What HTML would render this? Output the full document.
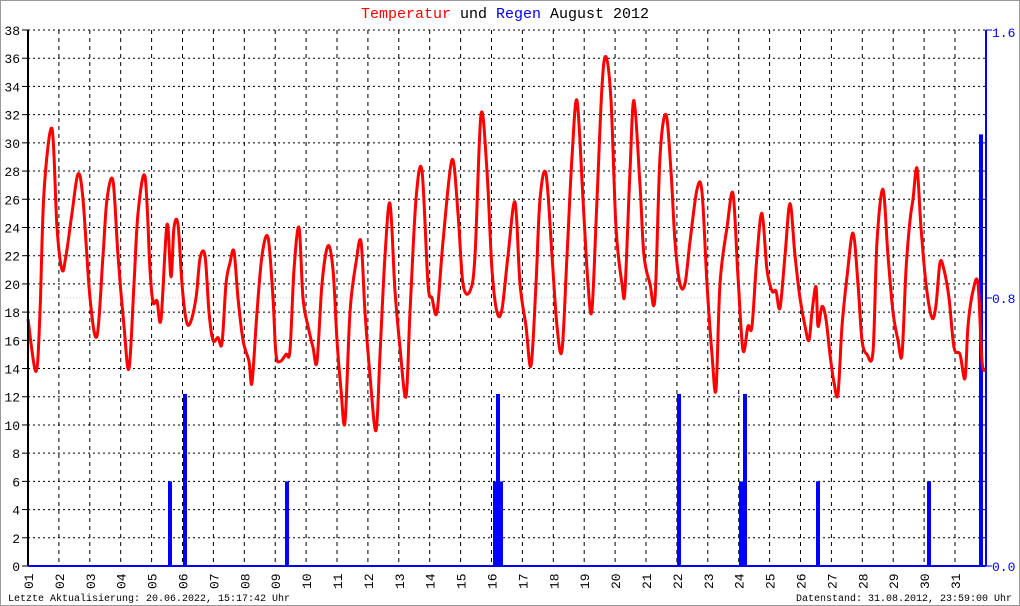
<!DOCTYPE html><html><head><style>body{margin:0;background:#fff}svg{display:block}</style></head><body>
<svg id="s" width="1020" height="606" xmlns="http://www.w3.org/2000/svg" font-family="Liberation Mono, DejaVu Sans Mono, monospace">
<rect x="0.5" y="0.5" width="1019" height="605" fill="#fff" stroke="#999"/>
<text x="505" y="18" text-anchor="middle" font-size="15"><tspan fill="#f00">Temperatur</tspan> und <tspan fill="#00f">Regen</tspan> August 2012</text>
<g id="grid"></g>
<g id="rain" fill="#00f"></g>
<path id="t" fill="none" stroke="#f00" stroke-width="3" stroke-linejoin="round"/>
<line x1="28" y1="30" x2="28" y2="566" stroke="#000" stroke-width="2"/>
<line x1="28" y1="566" x2="986" y2="566" stroke="#00f" stroke-width="2"/>
<line x1="986" y1="30" x2="986" y2="566" stroke="#00f" stroke-width="2"/>
<g font-size="13" fill="#00f"><text x="992" y="37">1.6</text><text x="992" y="303">0.8</text><text x="992" y="571">0.0</text></g>
<text x="8" y="601" font-size="10">Letzte Aktualisierung: 20.06.2022, 15:17:42 Uhr</text>
<text x="1012" y="601" font-size="10" text-anchor="end">Datenstand: 31.08.2012, 23:59:00 Uhr</text>
</svg>
<script>
var g=document.getElementById('grid'),s="";
function Y(t){return 566-t*14.105}
for(var i=0;i<=19;i++){var y=Y(i*2);
 if(i>0)s+='<line x1="28" y1="'+y+'" x2="986" y2="'+y+'" stroke="#000" stroke-dasharray="2,3"/>';
 s+='<line x1="22" y1="'+y+'" x2="28" y2="'+y+'" stroke="#000"/>';
 s+='<text x="20" y="'+(y+5)+'" font-size="13" text-anchor="end">'+(i*2)+'</text>';}
s+='<line x1="28" y1="298" x2="986" y2="298" stroke="#ccc" stroke-dasharray="1,2"/>';
for(var d=0;d<31;d++){var x=28+d*30.9;
 if(d>0)s+='<line x1="'+x+'" y1="30" x2="'+x+'" y2="566" stroke="#000" stroke-dasharray="4,4"/>';
 var l=(d+1<10?'0':'')+(d+1);
 s+='<text transform="translate('+(x+5)+',589) rotate(-90)" font-size="13">'+l+'</text>';}
s+='<line x1="986" y1="298" x2="992" y2="298" stroke="#00f"/><line x1="986" y1="566" x2="992" y2="566" stroke="#00f"/><line x1="986" y1="30" x2="992" y2="30" stroke="#00f"/>';
g.innerHTML=s;
var r=[[170,6],[185,12.2],[287,6],[495,6],[498,12.2],[501,6],[679,12.2],[741,6],[745,12.2],[818,6],[929,6],[981,30.6]],rs="";
r.forEach(function(b){rs+='<rect x="'+(b[0]-2)+'" y="'+Y(b[1])+'" width="4" height="'+(566-Y(b[1]))+'"/>'});
document.getElementById('rain').innerHTML=rs;
var p=[28,17.5,36,13.8,40,18,44,26.5,52,31,57,24,62,21,66,22,72,25,78,27.8,83,26,90,19,97,16.3,103,22,107,26,113,27.3,118,22,124,17,129,14,134,20,138,25,145,27.6,150,21,153,18.7,157,18.8,161,17.5,167,24.2,171,20.5,174,24,178,24.2,182,20,186,17.5,190,17.2,196,19,200,21.8,205,22,209,18,213,16,218,16.2,222,15.8,226,20,230,21.5,234,22.3,238,19,243,16,249,14.5,252,13,257,18,262,22,268,23.3,273,19,276,15,280,14.5,286,15,290,15.3,294,21,299,24,303,19,308,17,313,15.5,317,14.5,322,20,328,22.7,333,21,337,16,341,12.5,345,10.2,350,18,356,21.5,361,23,365,18,370,13.5,376,9.6,380,15,385,22,390,25.7,395,19.5,400,15.5,406,12,410,18,416,26,422,28,428,20,432,19,437,18,443,23,452,28.8,458,25,463,20,470,19.5,475,22,481,32,487,28,492,21,497,18,502,18.2,508,22,515,25.8,520,20,526,17,531,14.2,536,20,540,26,546,27.8,552,22,557,17,562,15.3,567,22,572,29,577,33,583,26,588,20,592,18.2,597,26,602,34,606,36.1,611,33,616,24,622,20,625,19.6,630,28,634,33,640,27,644,22,650,20,655,19,660,29,666,32,671,28,675,23,680,20,685,20,690,23,697,26.7,702,26.5,707,20,712,15,716,12.5,720,20,727,24,733,26.4,738,20.5,743,15.3,748,17,752,17,757,22,762,25,767,21,772,19.5,776,19.5,780,18.3,785,22,790,25.7,795,22,800,19,805,17,809,16,812,18,816,19.8,818,17,822,18.4,826,17.5,830,15,834,13,838,12.2,842,17,847,20.5,853,23.6,858,20,862,16,867,15,873,15.2,877,23,883,26.7,888,22,893,18,898,16,902,15,906,21,910,24.5,913,26,917,28.2,921,24,926,20,932,17.6,936,18.5,940,21.5,944,21,949,19,954,15.5,960,15,965,13.3,968,17,973,19.5,978,20,982,14.5,986,13.9],P=[];
for(var k=0;k<p.length;k+=2)P.push([p[k],Y(p[k+1])]);
var d='M'+P[0][0]+','+P[0][1].toFixed(1);
for(var i=0;i<P.length-1;i++){var a=P[Math.max(0,i-1)],b=P[i],c=P[i+1],e=P[Math.min(P.length-1,i+2)];
 var c1x=b[0]+(c[0]-a[0])/6,c1y=b[1]+(c[1]-a[1])/6,c2x=c[0]-(e[0]-b[0])/6,c2y=c[1]-(e[1]-b[1])/6;
 d+=' C'+c1x.toFixed(1)+','+c1y.toFixed(1)+' '+c2x.toFixed(1)+','+c2y.toFixed(1)+' '+c[0]+','+c[1].toFixed(1);}
document.getElementById('t').setAttribute('d',d);
</script></body></html>
